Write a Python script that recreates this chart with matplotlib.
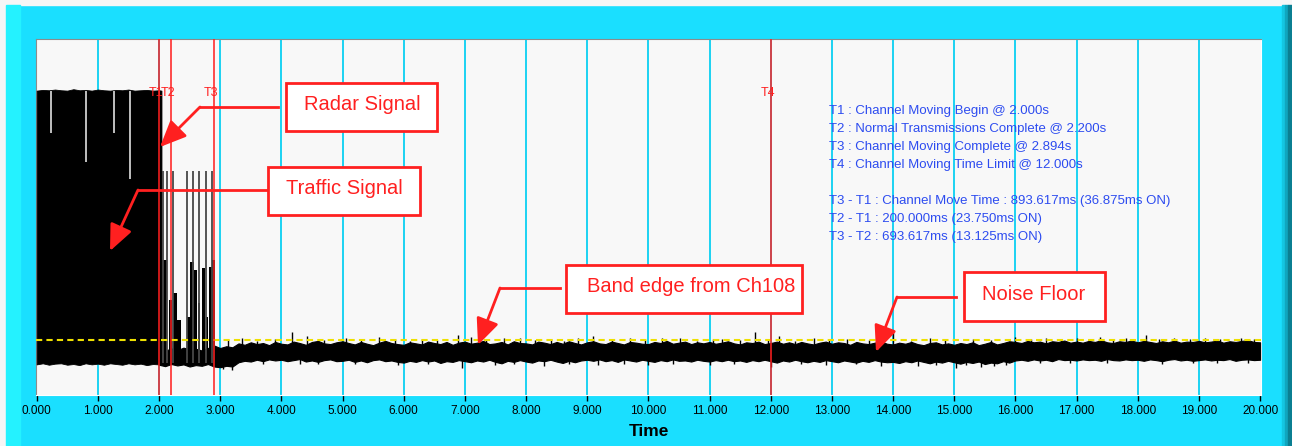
import matplotlib
matplotlib.use("Agg")
import matplotlib.pyplot as plt
from matplotlib.patches import Rectangle
from matplotlib.lines import Line2D
import numpy as np

plt.rcParams['font.family'] = ['Liberation Sans', 'DejaVu Sans']

W, H = 1292, 446
CYAN = '#1adfff'
RED = '#ff2020'

# ---- data (arbitrary level units, 0..100 over plot height) ----
radar_t = [0.0, 0.1, 0.2, 0.3, 0.4, 0.5, 0.6, 0.7, 0.8, 0.9, 1.0,
           1.1, 1.2, 1.3, 1.4, 1.5, 1.6, 1.7, 1.8, 1.9, 2.0, 2.04]
radar_hi = [85.5, 85.7, 85.6, 85.8, 85.6, 85.5, 85.9, 85.6, 85.7, 85.5, 85.8,
            85.6, 85.5, 85.7, 85.6, 85.8, 85.5, 85.6, 85.7, 85.5, 85.6, 85.5]
radar_lo = [8.6, 8.9, 8.5, 8.8, 8.9, 8.5, 8.7, 8.4, 8.9, 8.6, 8.8,
            8.5, 8.9, 8.7, 8.5, 8.9, 8.6, 8.8, 8.4, 8.7, 8.6, 8.5]
radar_gap_t = [0.23, 0.81, 1.27, 1.52]
radar_gap_lo = [73.6, 65.4, 73.6, 60.7]

burst_start = [2.045, 2.16, 2.23, 2.285, 2.455, 2.505, 2.575, 2.635, 2.695, 2.765, 2.815, 2.865]
burst_end = [2.135, 2.215, 2.29, 2.355, 2.50, 2.565, 2.625, 2.675, 2.75, 2.805, 2.87, 2.91]
burst_top = [37.9, 26.7, 28.6, 21.0, 22.0, 37.4, 35.0, 25.8, 35.7, 22.0, 36.0, 37.9]
spike_t = [2.07, 2.137, 2.235, 2.453, 2.55, 2.66, 2.76, 2.866]
spike_top = 62.9

noise_t0, noise_dt = 2.0, 0.1
noise_hi = [
    12.9, 12.4, 13.1, 12.6, 13.3, 12.8, 13.0, 12.5, 13.2, 13.9,
    13.2, 13.7, 13.4, 14.5, 14.1, 14.8, 14.3, 14.6, 14.0, 14.9,
    14.4, 14.2, 15.0, 14.6, 14.1, 14.9, 15.2, 14.5, 14.3, 14.8,
    15.1, 14.6, 14.2, 14.9, 14.4, 14.0, 14.7, 15.2, 14.6, 14.3,
    14.1, 14.8, 14.5, 14.2, 15.0, 14.6, 14.3, 14.9, 14.1, 14.7,
    15.0, 14.4, 14.7, 15.2, 14.3, 14.5, 14.9, 14.2, 15.1, 14.6,
    14.5, 14.2, 15.0, 14.7, 14.3, 14.9, 14.4, 15.1, 14.6, 14.2,
    14.8, 15.1, 14.5, 14.3, 15.0, 14.6, 14.2, 14.9, 14.7, 14.4,
    14.3, 14.9, 14.6, 15.2, 14.4, 14.7, 15.0, 14.3, 14.8, 14.5,
    14.9, 14.4, 14.7, 15.1, 14.5, 14.2, 14.8, 14.6, 15.0, 14.3,
    14.6, 15.0, 14.4, 14.8, 14.3, 14.9, 14.5, 14.2, 14.7, 15.0,
    14.4, 14.8, 14.6, 14.1, 14.9, 14.5, 14.3, 14.7, 15.1, 14.4,
    14.2, 14.7, 14.4, 14.9, 14.3, 14.0, 14.6, 14.8, 14.2, 14.5,
    14.1, 14.6, 14.3, 14.8, 14.0, 14.4, 14.9, 14.2, 14.6, 15.1,
    14.9, 14.6, 15.2, 14.8, 15.0, 14.5, 15.1, 14.9, 15.3, 14.7,
    15.0, 14.7, 15.2, 14.9, 15.4, 14.8, 14.6, 15.1, 14.9, 15.3,
    14.8, 15.2, 14.9, 14.6, 15.1, 14.8, 15.3, 14.7, 15.0, 14.9,
    15.2, 14.8, 15.0, 15.3, 14.7, 15.1, 14.9, 15.2, 15.4, 14.9,
    14.8]
noise_lo = [
    8.5, 8.1, 8.7, 8.3, 8.6, 8.0, 8.4, 8.2, 8.7, 8.0,
    7.8, 8.2, 8.0, 9.2, 9.6, 9.4, 9.9, 9.5, 10.0, 9.7,
    9.9, 9.5, 9.8, 10.1, 9.4, 9.7, 9.3, 9.8, 10.0, 9.5,
    9.6, 9.9, 9.3, 9.7, 9.2, 9.8, 10.0, 9.5, 9.7, 9.3,
    9.1, 9.6, 9.3, 9.8, 9.4, 9.7, 9.0, 9.5, 9.3, 9.8,
    9.5, 9.2, 9.7, 9.4, 9.9, 9.3, 8.9, 9.6, 9.3, 9.8,
    9.4, 9.1, 9.7, 9.5, 9.9, 9.4, 9.0, 9.6, 9.2, 9.7,
    9.9, 9.6, 10.0, 9.5, 9.8, 9.3, 10.0, 9.7, 9.4, 9.9,
    9.6, 9.3, 9.8, 9.5, 10.0, 9.6, 9.7, 9.4, 9.9, 9.6,
    9.4, 9.8, 9.5, 9.9, 9.5, 9.7, 9.3, 9.8, 9.5, 9.9,
    9.5, 9.1, 9.7, 9.4, 9.9, 9.5, 9.2, 9.6, 9.3, 9.8,
    9.5, 9.2, 9.7, 9.4, 9.1, 9.6, 9.3, 9.8, 9.4, 9.2,
    9.3, 9.0, 9.5, 9.2, 9.7, 9.3, 8.9, 9.4, 9.1, 9.6,
    9.2, 8.8, 9.3, 9.0, 9.4, 8.7, 9.1, 8.9, 9.5, 9.1,
    9.7, 9.9, 9.6, 10.0, 9.7, 9.9, 9.5, 10.1, 9.8, 9.9,
    9.7, 10.0, 9.8, 9.9, 9.6, 10.1, 9.8, 9.7, 10.0, 9.8,
    9.9, 9.6, 10.0, 9.8, 9.5, 9.9, 10.1, 9.7, 9.9, 9.6,
    9.8, 10.0, 9.7, 9.9, 9.8, 10.1, 9.6, 9.9, 10.0, 9.8,
    9.9]
noise_peak_t = [3.12, 3.35, 3.6, 3.9, 4.18, 4.42, 4.7, 5.05, 5.3, 5.6,
                5.85, 6.1, 6.3, 6.55, 6.88, 7.1, 7.35, 7.64, 7.9, 8.15,
                8.4, 8.62, 8.85, 9.1, 9.4, 9.7, 9.95, 10.23, 10.52, 10.8,
                11.05, 11.2, 11.5, 11.75, 11.95, 12.13, 12.4, 12.7, 12.95, 13.25,
                13.6, 13.8, 14.0, 14.3, 14.6, 14.85, 15.3, 15.6, 16.0, 16.25,
                16.5, 16.75, 17.0, 17.2, 17.39, 17.6, 17.8, 18.13, 18.35, 18.6,
                18.85, 19.1, 19.35, 19.69, 19.9]
noise_peak_v = [15.4, 16.0, 15.3, 15.8, 17.7, 16.6, 15.5, 15.9, 15.4, 16.2,
                15.6, 15.3, 15.8, 15.5, 16.9, 16.3, 15.4, 16.0, 16.0, 15.5,
                15.7, 15.3, 16.0, 16.6, 15.4, 15.9, 15.5, 16.0, 16.0, 15.3,
                15.6, 15.8, 15.4, 17.7, 15.5, 16.6, 15.3, 15.9, 15.4, 15.8,
                15.4, 15.5, 17.7, 15.3, 15.9, 15.4, 15.8, 15.5, 16.3, 15.6,
                16.0, 15.5, 16.1, 15.7, 16.4, 15.6, 16.0, 16.9, 15.7, 16.1,
                15.6, 15.9, 15.6, 16.1, 15.7]
noise_dip_t = [3.05, 3.2, 3.7, 4.3, 4.6, 5.2, 5.9, 6.4, 6.96, 7.5,
               7.8, 8.3, 8.7, 9.17, 9.6, 10.0, 10.4, 11.0, 11.4, 12.0,
               12.5, 12.9, 13.4, 13.8, 14.4, 14.7, 15.03, 15.2, 15.44, 15.65,
               15.85, 16.4, 16.9, 17.5, 18.4, 18.9, 19.3, 19.8]
noise_dip_v = [7.2, 7.0, 8.6, 8.8, 8.6, 8.7, 8.5, 8.8, 7.7, 8.3,
               8.7, 8.2, 8.8, 8.4, 8.7, 8.5, 8.8, 8.3, 8.7, 8.0,
               8.6, 8.4, 8.7, 8.2, 8.1, 8.5, 7.6, 8.3, 8.0, 8.2,
               8.4, 9.0, 8.9, 9.1, 8.8, 9.1, 8.9, 9.0]

threshold = 15.4
marker_names = ['T1', 'T2', 'T3', 'T4']
marker_t = [2.000, 2.200, 2.894, 12.000]
info_lines = [
    'T1 : Channel Moving Begin @ 2.000s',
    'T2 : Normal Transmissions Complete @ 2.200s',
    'T3 : Channel Moving Complete @ 2.894s',
    'T4 : Channel Moving Time Limit @ 12.000s',
    '',
    'T3 - T1 : Channel Move Time : 893.617ms (36.875ms ON)',
    'T2 - T1 : 200.000ms (23.750ms ON)',
    'T3 - T2 : 693.617ms (13.125ms ON)',
]
ticks = list(range(0, 21))


def fx(x):
    return x / W


def fy(y):
    return 1 - y / H


fig = plt.figure(figsize=(W / 100, H / 100), dpi=100, facecolor=CYAN)

# window decoration
for (x0, y0, x1, y1, c) in [(0, 0, W, 5, '#f6f6f6'), (0, 0, 6, H, '#f6f6f6'),
                            (6, 5, 20, H, '#24f2ff'), (1282, 5, 1285, H, '#14c6e2'),
                            (1285, 5, 1288, H, '#10a6bf'), (1288, 5, W, H, '#0b7f92')]:
    fig.patches.append(Rectangle((fx(x0), fy(y1)), fx(x1 - x0), (y1 - y0) / H,
                                 transform=fig.transFigure, color=c, zorder=0))

ax = fig.add_axes([fx(36), fy(395), fx(1261 - 36), (395 - 39) / H])
ax.set_facecolor('#f8f8f8')
ax.set_xlim(-0.011, 20.015)
ax.set_ylim(0, 100)

# vertical grid
for t in ticks[1:-1]:
    ax.axvline(t, color='#1cd2f2', lw=1.4, zorder=1)

# trace
ax.fill_between(radar_t, radar_lo, radar_hi, color='black', lw=0.6, zorder=3)
ax.vlines(radar_gap_t, radar_gap_lo, 85.5, color='#cfcfcf', lw=1.3, zorder=4)
noise_t = noise_t0 + noise_dt * np.arange(len(noise_hi))
ax.fill_between(noise_t, noise_lo, noise_hi, color='black', lw=0.8, zorder=3)
ax.vlines(noise_peak_t, 12, noise_peak_v, color='black', lw=1.0, zorder=3)
ax.vlines(noise_dip_t, 12, noise_dip_v, color='black', lw=1.0, zorder=3)
floor = 9.0
ax.bar(burst_start, np.array(burst_top) - floor,
       width=np.array(burst_end) - np.array(burst_start),
       bottom=floor, align='edge', color='black', lw=0, zorder=3)
ax.vlines(spike_t, floor, spike_top, color='#474747', lw=1.3, zorder=3)

# threshold line
ax.axhline(threshold, color='#eee000', lw=1.5, ls=(0, (3, 2)), zorder=5)

# markers
for name, t in zip(marker_names, marker_t):
    ax.axvline(t, color=RED, lw=1.4, alpha=0.8, zorder=6)
    ax.annotate(name, (t, 84.8), xytext=(-2, 0), textcoords='offset points',
                color=RED, fontsize=9, ha='center', va='center', zorder=7)

# info text
for i, line in enumerate(info_lines):
    fig.text(fx(829), fy(111 + 18 * i), line, color='#2d4cf0', fontsize=9.5,
             va='center', ha='left')

# axes styling
ax.set_yticks([])
ax.set_xticks(ticks)
ax.set_xticklabels([f'{t:.3f}' for t in ticks])
ax.tick_params(axis='x', length=4, width=1, pad=3, labelsize=8.5, colors='black')
for side in ['top', 'left']:
    ax.spines[side].set_color('#8c8c8c')
for side in ['bottom', 'right']:
    ax.spines[side].set_color('#ffffff')
ax.set_xlabel('Time', fontsize=12.5, fontweight='bold')
ax.xaxis.label.set_va('center')
ax.xaxis.set_label_coords(0.5, (395 - 432) / (395 - 39))

# annotation boxes with bent arrows
callouts = [
    ('Radar Signal', (286, 83, 437, 131), 362, [(278, 107), (200, 107)], (160, 147)),
    ('Traffic Signal', (268, 167, 420, 215), 344, [(268, 190), (138, 190)], (110, 251)),
    ('Band edge from Ch108', (566, 265, 802, 313), 691, [(560, 288), (500, 288)], (478, 345)),
    ('Noise Floor', (964, 272, 1105, 321), 1034, [(956, 297), (897, 297)], (876, 352)),
]
for label, (x0, y0, x1, y1), tx, path, tip in callouts:
    fig.patches.append(Rectangle((fx(x0), fy(y1)), fx(x1 - x0), (y1 - y0) / H,
                                 transform=fig.transFigure, facecolor='white',
                                 edgecolor=RED, lw=2, zorder=8))
    fig.text(fx(tx), fy((y0 + y1) / 2 - 2), label, color=RED, fontsize=14.5,
             ha='center', va='center', zorder=9)
    fig.lines.append(Line2D([fx(p[0]) for p in path], [fy(p[1]) for p in path],
                            transform=fig.transFigure, color=RED, lw=2, zorder=8))
    ax.annotate('', xy=(tip[0], H - tip[1]), xycoords='figure pixels',
                xytext=(path[-1][0], H - path[-1][1]), textcoords='figure pixels',
                arrowprops=dict(arrowstyle='-|>,head_length=0.8,head_width=0.35',
                                mutation_scale=20, color=RED, lw=2,
                                shrinkA=0, shrinkB=0), zorder=9)

fig.savefig('out.png', dpi=100, facecolor=CYAN)
